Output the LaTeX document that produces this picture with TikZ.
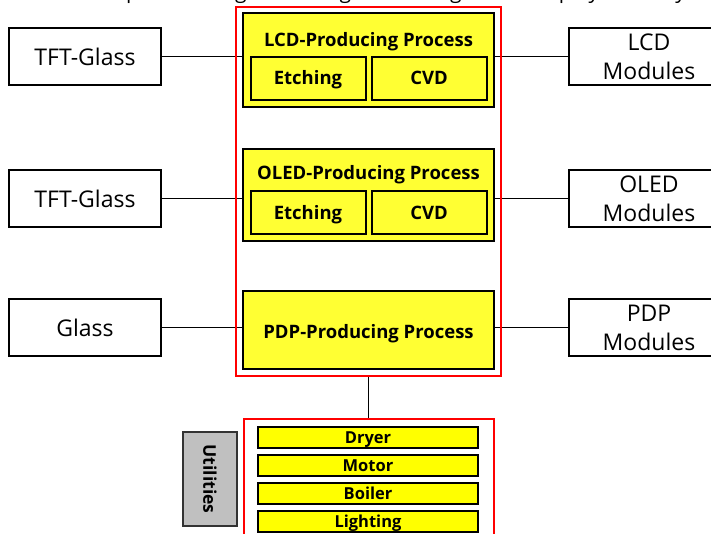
\documentclass[tikz,border=0pt]{standalone}
\usepackage{fontspec}
\setmainfont{Open Sans}
\definecolor{procyellow}{HTML}{FFFF33}
\definecolor{utilyellow}{HTML}{FFFF00}
\definecolor{framered}{HTML}{FF0000}
\definecolor{utilgray}{HTML}{C0C0C0}
\begin{document}
\begin{tikzpicture}[x=1pt,y=-1pt,
  plainbox/.style={draw=black,line width=2pt,fill=white,align=center,inner sep=0pt,
    font=\fontsize{23}{29}\selectfont},
  procbox/.style={draw=black,line width=2.5pt,fill=procyellow,inner sep=0pt},
  subbox/.style={draw=black,line width=2pt,fill=procyellow,inner sep=0pt,
    minimum width=115pt,minimum height=43pt,text height=13.4pt,text depth=0pt,
    font=\bfseries\fontsize{18.5}{21}\selectfont},
  proctitle/.style={inner sep=0pt,text height=13.4pt,text depth=0pt,
    font=\bfseries\fontsize{18.5}{21}\selectfont},
  utilbox/.style={draw=black,line width=2pt,fill=utilyellow,inner sep=0pt,
    minimum width=220pt,minimum height=21pt,text height=12pt,text depth=0pt,
    font=\bfseries\fontsize{16.5}{18}\selectfont},
  redframe/.style={draw=framered,line width=2pt,inner sep=0pt},
  conn/.style={draw=black,line width=1.5pt}]
\useasboundingbox (0,0) rectangle (711,533);
% title, cut off at the top edge as in the reference
\node[anchor=base east,inner sep=0pt,font=\fontsize{21}{24}\selectfont] (title) at (686,-1.5)
  {Power Consumption during Producing Processing in the Display Industry};
% left boxes
\node[plainbox,minimum width=152pt,minimum height=57pt] (in1) at (85,56.5) {TFT-Glass};
\node[plainbox,minimum width=152pt,minimum height=57pt] (in2) at (85,198.5) {TFT-Glass};
\node[plainbox,minimum width=152pt,minimum height=57pt] (in3) at (85,327.5) {Glass};
% right boxes
\node[plainbox,minimum width=160pt,minimum height=57pt] (out1) at (649,56.5) {LCD\\Modules};
\node[plainbox,minimum width=160pt,minimum height=57pt] (out2) at (649,198.5) {OLED\\Modules};
\node[plainbox,minimum width=160pt,minimum height=57pt] (out3) at (649,327.5) {PDP\\Modules};
% process boxes
\node[procbox,minimum width=251pt,minimum height=94pt] (lcd) at (368.5,60) {};
\node[proctitle] (lcdt) at (368.5,39.5) {LCD-Producing Process};
\node[subbox] (lcde) at (308,78) {Etching};
\node[subbox] (lcdc) at (429,78) {CVD};
\node[procbox,minimum width=251pt,minimum height=92pt] (oled) at (368.5,195) {};
\node[proctitle] (oledt) at (368.5,173) {OLED-Producing Process};
\node[subbox] (olede) at (308,212.5) {Etching};
\node[subbox] (oledc) at (429,212.5) {CVD};
\node[procbox,minimum width=251pt,minimum height=78pt] (pdp) at (368.5,330) {};
\node[proctitle] (pdpt) at (368.5,331.5) {PDP-Producing Process};
% connectors
\draw[conn] (in1.east) -- (in1.east -| lcd.west);
\draw[conn] (lcd.east |- out1.west) -- (out1.west);
\draw[conn] (in2.east) -- (in2.east -| oled.west);
\draw[conn] (oled.east |- out2.west) -- (out2.west);
\draw[conn] (in3.east) -- (in3.east -| pdp.west);
\draw[conn] (pdp.east |- out3.west) -- (out3.west);
% red frames
\node[redframe,minimum width=265pt,minimum height=369pt] (main) at (368.5,191.5) {};
\node[redframe,minimum width=250pt,minimum height=130pt] (ufr) at (368.5,484) {};
\draw[conn] (main.south) -- (main.south |- ufr.north);
% utilities
\node[utilbox] (dryer) at (368,437) {Dryer};
\node[utilbox] (motor) at (368,465) {Motor};
\node[utilbox] (boiler) at (368,493.5) {Boiler};
\node[utilbox] (light) at (368,521.5) {Lighting};
\node[draw=black!80,line width=2pt,fill=utilgray,minimum width=54pt,minimum height=94pt,inner sep=0pt] (utilbox) at (210,479) {};
\node[rotate=-90,inner sep=0pt,font=\bfseries\fontsize{17.5}{20}\selectfont] (utilt) at (utilbox) {Utilities};
\end{tikzpicture}
\end{document}
